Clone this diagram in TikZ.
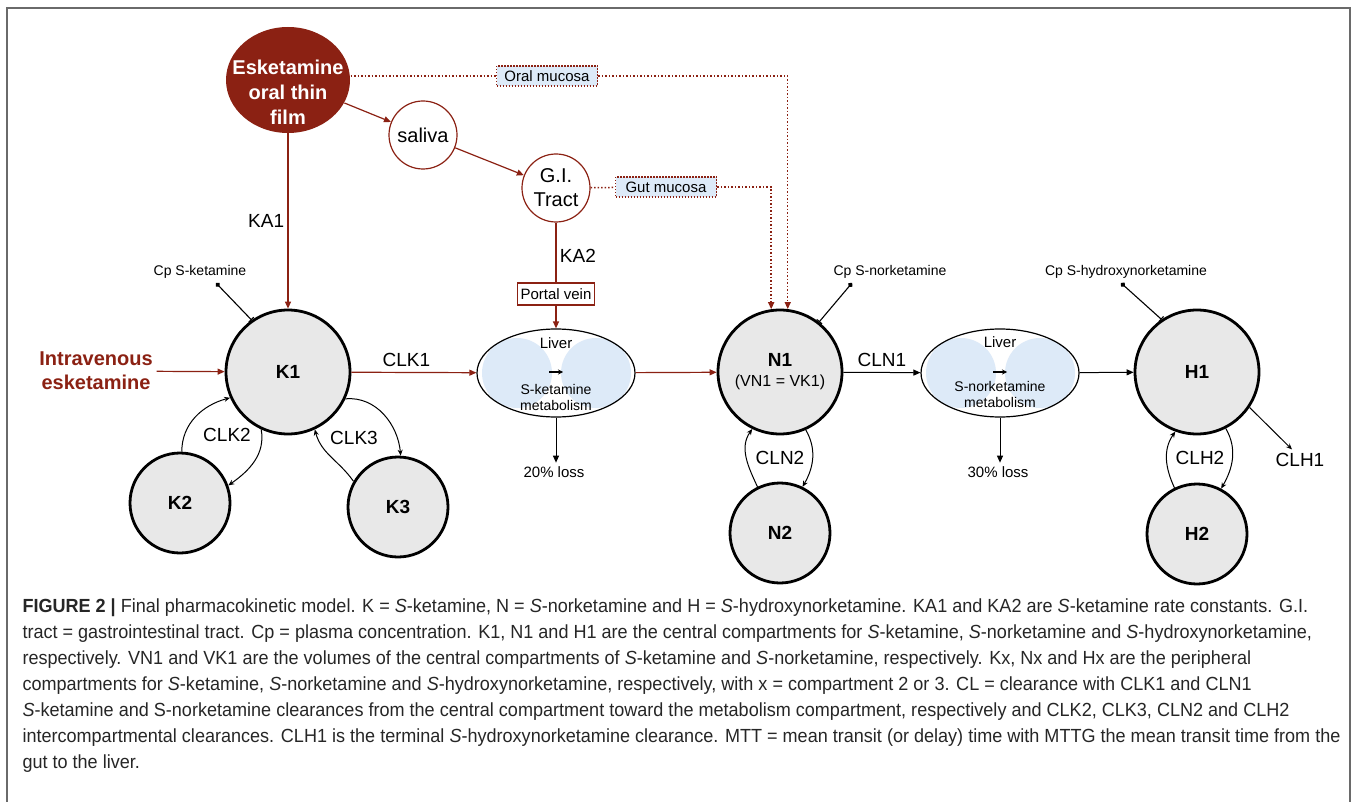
\documentclass[tikz,border=0pt]{standalone}
\usepackage{fontspec}
\setmainfont{Liberation Sans}
\newfontfamily\capfont{Liberation Sans}[FakeStretch=0.95]
\usetikzlibrary{arrows.meta, positioning, shapes.geometric}
\definecolor{drkred}{HTML}{8B2113}
\definecolor{compgrey}{HTML}{E8E8E8}
\definecolor{livblue}{HTML}{DDEAF8}
\definecolor{framegrey}{HTML}{6A6A6A}
\tikzstyle{model}=[line width=1pt, >={Triangle[length=7pt,width=6pt]}]
\tikzstyle{central}=[circle, draw, line width=2.8pt, fill=compgrey, minimum size=124pt, inner sep=0pt, align=center, font=\fontsize{19}{22}\selectfont\bfseries]
\tikzstyle{periph}=[central, minimum size=100pt]
\tikzstyle{gutstep}=[circle, draw=drkred, line width=1.2pt, fill=white, minimum size=68pt, inner sep=0pt, align=center, font=\fontsize{20}{24}\selectfont]
\tikzstyle{mucosa}=[draw=drkred, dash pattern=on 1.5pt off 1.5pt, line width=1.5pt, fill=livblue, minimum width=101pt, minimum height=20pt, inner sep=2pt, font=\fontsize{15}{18}\selectfont]
\tikzstyle{liver}=[ellipse, draw, line width=1.2pt, fill=white, minimum width=158pt, minimum height=88pt, inner sep=0pt,
  path picture={\fill[livblue] ([xshift=-39pt]path picture bounding box.center) circle[radius=35pt]
    ([xshift=40pt]path picture bounding box.center) circle[radius=35pt];}]
\tikzstyle{small}=[font=\fontsize{14}{16}\selectfont, align=center]
\tikzstyle{clear}=[font=\fontsize{19}{22}\selectfont]
\tikzstyle{redflow}=[->, drkred, line width=1.2pt]
\tikzstyle{mucline}=[drkred, dash pattern=on 1.5pt off 2pt, line width=1.5pt, >={Triangle[length=7pt,width=6pt]}]
\tikzstyle{exch}=[->, line width=1pt, >={Stealth[length=6pt,width=5pt]}]
\tikzstyle{cpline}=[{Circle[length=5pt]}-{Bar[width=7pt]}, line width=1.1pt]

\begin{document}
\begin{tikzpicture}[model, x=1pt, y=-1pt]
  \useasboundingbox (0,0) rectangle (1357,802);
  \draw[framegrey, line width=2pt] (7,802) -- (7,8) -- (1350,8) -- (1350,802);

  % oral route
  \node[ellipse, fill=drkred, minimum width=124pt, minimum height=106pt, inner sep=0pt] (film) at (288,80) {};
  \node[text=white, align=center, font=\fontsize{20}{25}\selectfont\bfseries] (filmtxt) at (288,92) {Esketamine\\oral thin\\film};
  \node[gutstep] (saliva) at (423,135) {saliva};
  \node[gutstep] (GI) at (556,188) {G.I.\\Tract};
  \node[mucosa] (oral) at (547,76) {Oral mucosa};
  \node[mucosa] (gut) at (666,187) {Gut mucosa};
  \node[draw=drkred, line width=1.2pt, fill=white, minimum height=22pt, inner sep=3pt,
        font=\fontsize{15}{18}\selectfont] (portal) at (556,294) {Portal vein};

  % S-ketamine
  \node[central] (K1) at (288,372) {K1};
  \node[periph] (K2) [on grid, below left=131pt and 108pt of K1] {K2};
  \node[periph] (K3) [on grid, below right=135pt and 110pt of K1] {K3};
  \node[text=drkred, align=center, font=\fontsize{20}{24}\selectfont\bfseries] (iv) at (96,371) {Intravenous\\esketamine};
  \node[liver] (liverK) at (556,373) {};
  \node[small, font=\fontsize{15}{16}\selectfont] at ([yshift=30pt]liverK.center) {Liver};
  \node[small] at ([yshift=-24pt]liverK.center) {S-ketamine\\metabolism};
  \coordinate (lkA) at ([xshift=-7pt, yshift=1pt]liverK.center);
  \coordinate (lkB) at ([xshift=7pt, yshift=1pt]liverK.center);
  \node[small, font=\fontsize{15}{18}\selectfont] (lossK) at (554,472) {20\% loss};

  % S-norketamine
  \node[central] (N1) at (780,372) {N1\\[-2pt]{\fontsize{16}{19}\selectfont\mdseries (VN1 = VK1)}};
  \node[periph] (N2) [on grid, below=161pt of N1] {N2};
  \node[liver] (liverN) at (1000,373) {};
  \node[small, font=\fontsize{15}{16}\selectfont] at ([yshift=31pt]liverN.center) {Liver};
  \node[small] at ([yshift=-21pt]liverN.center) {S-norketamine\\metabolism};
  \coordinate (lnA) at ([xshift=-7pt, yshift=1pt]liverN.center);
  \coordinate (lnB) at ([xshift=7pt, yshift=1pt]liverN.center);
  \node[small, font=\fontsize{15}{18}\selectfont] (lossN) at (998,472) {30\% loss};

  % S-hydroxynorketamine
  \node[central] (H1) at (1197,372) {H1};
  \node[periph] (H2) [on grid, below=162pt of H1] {H2};
  \node[clear] (clh1) at (1300,460) {CLH1};

  % plasma concentrations
  \node[small] (cpKtxt) at (200,272) {Cp S-ketamine};
  \node[small] (cpNtxt) at (890,272) {Cp S-norketamine};
  \node[small] (cpHtxt) at (1126,272) {Cp S-hydroxynorketamine};
  \coordinate (cpK) at (216,283);
  \coordinate (cpN) at (852,283);
  \coordinate (cpH) at (1121,283);
  \draw[cpline] (cpK) -- (K1.125);
  \draw[cpline] (cpN) -- (N1.52);
  \draw[cpline] (cpH) -- (H1.124);

  % absorption
  \draw[redflow] (film) -- (saliva);
  \draw[redflow] (saliva) -- (GI);
  \draw[redflow] (film) -- node[clear, left, pos=0.5, text=black] {KA1} (K1);
  \draw[drkred, line width=1.2pt] (GI) -- node[clear, right, pos=0.55, text=black] {KA2} (portal);
  \draw[redflow] (portal) -- (liverK);
  \draw[redflow] (iv) -- (K1);
  \draw[mucline] (film.east |- oral) -- (oral);
  \draw[mucline, ->] (oral) -| (N1.83);
  \draw[mucline] (GI) -- (gut);
  \draw[mucline, ->] (gut) -| (N1.98);

  % clearances
  \draw[redflow] (K1) -- node[clear, above=2pt, pos=0.44, text=black] {CLK1} (liverK);
  \draw[redflow] (liverK) -- (N1);
  \draw[->] (N1) -- node[clear, above=2pt] {CLN1} (liverN);
  \draw[->] (liverN) -- (H1);
  \draw[->] (liverK.south) -- (liverK.south |- lossK.north);
  \draw[->] (liverN.south) -- (liverN.south |- lossN.north);
  \draw[->, line width=1.3pt, >={Stealth[length=5pt,width=5pt]}] (lkA) -- (lkB);
  \draw[->, line width=1.3pt, >={Stealth[length=5pt,width=5pt]}] (lnA) -- (lnB);
  \draw[exch] (H1.-34) -- ([xshift=-8pt]clh1.north);

  % intercompartmental exchange
  \draw[exch] (K2.88) to[out=90, in=195] (K1.204);
  \draw[exch] (K1.245) to[out=-80, in=35] (K2.20);
  \draw[exch] (K3.150) to[out=125, in=-75] (K1.295);
  \draw[exch] (K1.-25) to[out=5, in=95] (K3.87);
  \node[clear] at (227,435) {CLK2};
  \node[clear] at (354,438) {CLK3};
  \draw[exch] (N2.116) to[out=115, in=235] (N1.244);
  \draw[exch] (N1.294) to[out=-60, in=60] (N2.64);
  \node[clear] at (780,458) {CLN2};
  \draw[exch] (H2.116) to[out=115, in=235] (H1.250);
  \draw[exch] (H1.297) to[out=-60, in=60] (H2.62);
  \node[clear] at (1200,458) {CLH2};

  % caption
  \node[anchor=north west, inner sep=0pt, align=left, font=\capfont\fontsize{19}{26}\selectfont, text=black!85] (cap) at (22,598)
  {\textbf{FIGURE 2 |} Final pharmacokinetic model. K = \textit{S}-ketamine, N = \textit{S}-norketamine and H = \textit{S}-hydroxynorketamine. KA1 and KA2 are \textit{S}-ketamine rate constants. G.I.\\
   tract = gastrointestinal tract. Cp = plasma concentration. K1, N1 and H1 are the central compartments for \textit{S}-ketamine, \textit{S}-norketamine and \textit{S}-hydroxynorketamine,\\
   respectively. VN1 and VK1 are the volumes of the central compartments of \textit{S}-ketamine and \textit{S}-norketamine, respectively. Kx, Nx and Hx are the peripheral\\
   compartments for \textit{S}-ketamine, \textit{S}-norketamine and \textit{S}-hydroxynorketamine, respectively, with x = compartment 2 or 3. CL = clearance with CLK1 and CLN1\\
   \textit{S}-ketamine and S-norketamine clearances from the central compartment toward the metabolism compartment, respectively and CLK2, CLK3, CLN2 and CLH2\\
   intercompartmental clearances. CLH1 is the terminal \textit{S}-hydroxynorketamine clearance. MTT = mean transit (or delay) time with MTTG the mean transit time from the\\
   gut to the liver.};
\end{tikzpicture}
\end{document}
